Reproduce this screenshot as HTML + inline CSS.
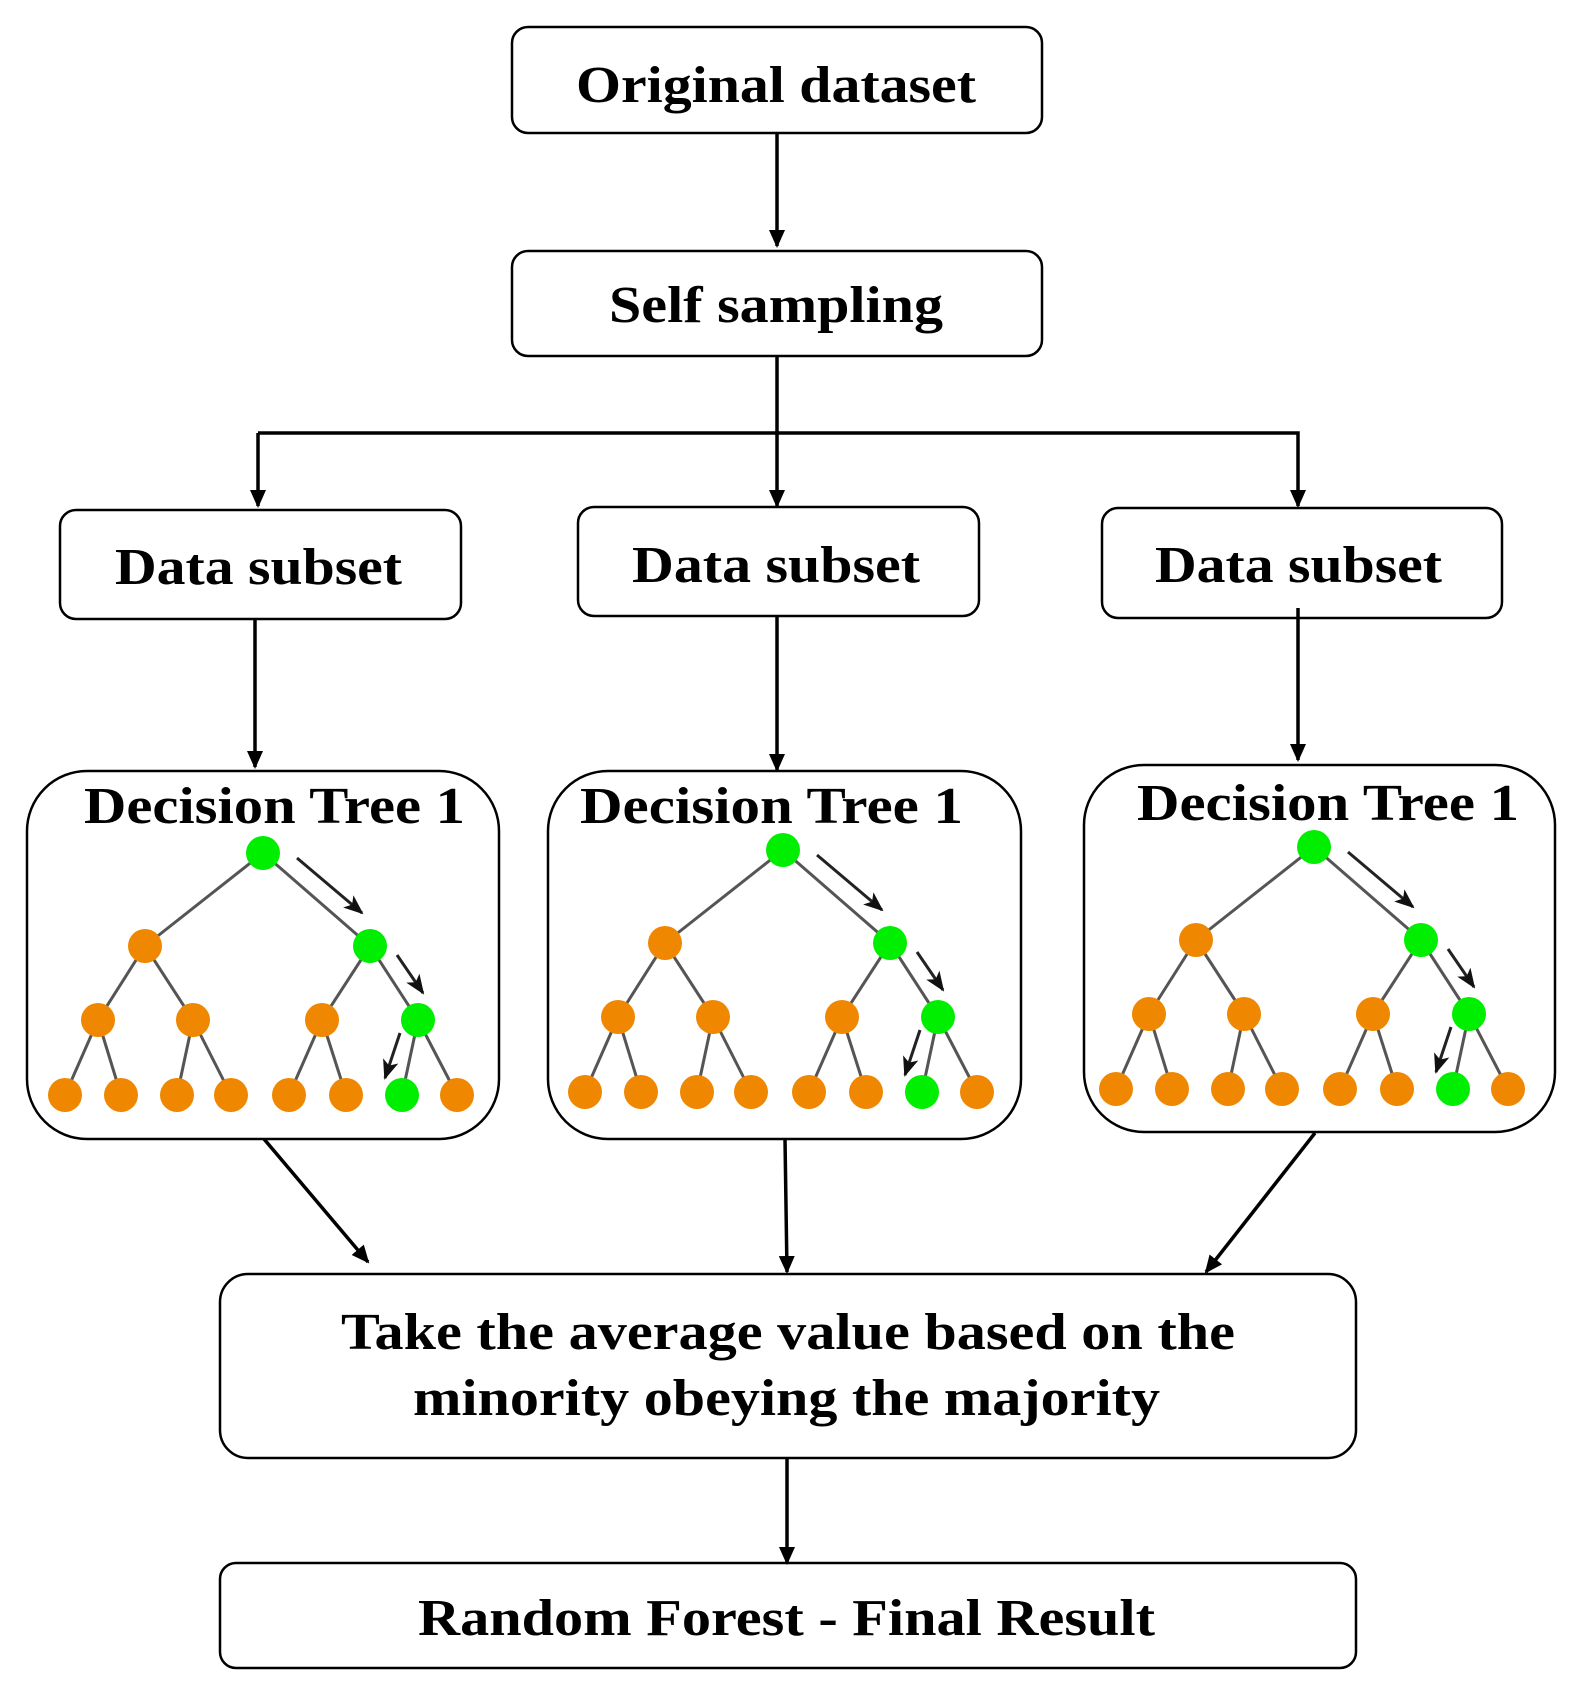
<!DOCTYPE html>
<html><head><meta charset="utf-8"><style>
html,body{margin:0;padding:0;background:#fff;}
svg{display:block;}
text{font-family:"Liberation Serif",serif;font-weight:bold;fill:#000;}
</style></head><body>
<svg width="1576" height="1685" viewBox="0 0 1576 1685" xmlns="http://www.w3.org/2000/svg">
<defs>
<marker id="ah" markerWidth="18" markerHeight="16" refX="16" refY="8" orient="auto" markerUnits="userSpaceOnUse">
<path d="M0,0 L18,8 L0,16 Z" fill="#000"/>
</marker>
<marker id="sh" markerWidth="20" markerHeight="18" refX="18" refY="9" orient="auto" markerUnits="userSpaceOnUse">
<path d="M0,1 L20,9 L0,17 L5,9 Z" fill="#111"/>
</marker>
<g id="tree">
<g stroke="#555" stroke-width="3">
<line x1="263" y1="853" x2="145" y2="946"/><line x1="263" y1="853" x2="370" y2="946"/>
<line x1="145" y1="946" x2="98" y2="1020"/><line x1="145" y1="946" x2="193" y2="1020"/>
<line x1="370" y1="946" x2="322" y2="1020"/><line x1="370" y1="946" x2="418" y2="1020"/>
<line x1="98" y1="1020" x2="65" y2="1095"/><line x1="98" y1="1020" x2="121" y2="1095"/>
<line x1="193" y1="1020" x2="177" y2="1095"/><line x1="193" y1="1020" x2="231" y2="1095"/>
<line x1="322" y1="1020" x2="289" y2="1095"/><line x1="322" y1="1020" x2="346" y2="1095"/>
<line x1="418" y1="1020" x2="402" y2="1095"/><line x1="418" y1="1020" x2="457" y2="1095"/>
</g>
<g fill="#EF8700">
<circle cx="145" cy="946" r="17"/><circle cx="98" cy="1020" r="17"/><circle cx="193" cy="1020" r="17"/><circle cx="322" cy="1020" r="17"/>
<circle cx="65" cy="1095" r="17"/><circle cx="121" cy="1095" r="17"/><circle cx="177" cy="1095" r="17"/><circle cx="231" cy="1095" r="17"/>
<circle cx="289" cy="1095" r="17"/><circle cx="346" cy="1095" r="17"/><circle cx="457" cy="1095" r="17"/>
</g>
<g fill="#00EE00">
<circle cx="263" cy="853" r="17"/><circle cx="370" cy="946" r="17"/><circle cx="418" cy="1020" r="17"/><circle cx="402" cy="1095" r="17"/>
</g>
<g stroke="#222" stroke-width="3" fill="none">
<line x1="297" y1="858" x2="362" y2="913" marker-end="url(#sh)"/>
<line x1="397" y1="955" x2="423" y2="993" marker-end="url(#sh)"/>
<line x1="400" y1="1033" x2="385" y2="1078" marker-end="url(#sh)"/>
</g>
</g>
</defs>

<g fill="#fff" stroke="#000" stroke-width="2.5">
<rect x="512" y="27" width="530" height="106" rx="16"/>
<rect x="512" y="251" width="530" height="105" rx="16"/>
<rect x="60" y="510" width="401" height="109" rx="16"/>
<rect x="578" y="507" width="401" height="109" rx="16"/>
<rect x="1102" y="508" width="400" height="110" rx="16"/>
<rect x="27" y="771" width="472" height="368" rx="60"/>
<rect x="548" y="771" width="473" height="368" rx="60"/>
<rect x="1084" y="765" width="471" height="367" rx="60"/>
<rect x="220" y="1274" width="1136" height="184" rx="28"/>
<rect x="220" y="1563" width="1136" height="105" rx="16"/>
</g>

<g stroke="#000" stroke-width="3.5" fill="none">
<line x1="777" y1="133" x2="777" y2="246" marker-end="url(#ah)"/>
<line x1="777" y1="356" x2="777" y2="506" marker-end="url(#ah)"/>
<polyline points="258,433 1298,433 1298,506" marker-end="url(#ah)"/>
<line x1="258" y1="433" x2="258" y2="506" marker-end="url(#ah)"/>
<line x1="255" y1="619" x2="255" y2="767" marker-end="url(#ah)"/>
<line x1="777" y1="616" x2="777" y2="770" marker-end="url(#ah)"/>
<line x1="1298" y1="608" x2="1298" y2="760" marker-end="url(#ah)"/>
<line x1="264" y1="1139" x2="368" y2="1262" marker-end="url(#ah)"/>
<line x1="785" y1="1139" x2="787" y2="1272" marker-end="url(#ah)"/>
<line x1="1315" y1="1133" x2="1206" y2="1272" marker-end="url(#ah)"/>
<line x1="787" y1="1458" x2="787" y2="1563" marker-end="url(#ah)"/>
</g>

<use href="#tree"/>
<use href="#tree" transform="translate(520,-3)"/>
<use href="#tree" transform="translate(1051,-6)"/>

<g font-size="52">
<text x="576" y="102" textLength="400" lengthAdjust="spacingAndGlyphs">Original dataset</text>
<text x="609" y="322" textLength="334" lengthAdjust="spacingAndGlyphs">Self sampling</text>
<text x="115" y="584" textLength="287" lengthAdjust="spacingAndGlyphs">Data subset</text>
<text x="632" y="582" textLength="288" lengthAdjust="spacingAndGlyphs">Data subset</text>
<text x="1155" y="582" textLength="287" lengthAdjust="spacingAndGlyphs">Data subset</text>
<text x="84" y="823" textLength="381" lengthAdjust="spacingAndGlyphs">Decision Tree 1</text>
<text x="580" y="823" textLength="383" lengthAdjust="spacingAndGlyphs">Decision Tree 1</text>
<text x="1137" y="820" textLength="382" lengthAdjust="spacingAndGlyphs">Decision Tree 1</text>
<text x="341" y="1349" textLength="894" lengthAdjust="spacingAndGlyphs">Take the average value based on the</text>
<text x="413" y="1415" textLength="747" lengthAdjust="spacingAndGlyphs">minority obeying the majority</text>
<text x="418" y="1635" textLength="737" lengthAdjust="spacingAndGlyphs">Random Forest - Final Result</text>
</g>
</svg>
</body></html>
